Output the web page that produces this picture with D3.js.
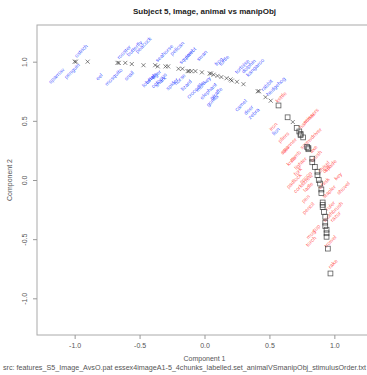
<!DOCTYPE html>
<html>
<head>
<meta charset="utf-8">
<script src="https://cdn.jsdelivr.net/npm/d3@7"></script>
<style>
  body { margin: 0; background: #fff; }
  svg { font-family: "Liberation Sans", Arial, sans-serif; }
</style>
</head>
<body>
<svg id="chart" width="367" height="375"></svg>
<script>
// animal points (crosses)
const animalPts = [
  [-1.00, 1.00], [-0.99, 1.00], [-0.90, 1.00], [-0.67, 0.99], [-0.66, 0.99], [-0.61, 0.99],
  [-0.56, 0.98], [-0.47, 0.97], [-0.38, 0.97], [-0.36, 0.96], [-0.30, 0.96], [-0.28, 0.96],
  [-0.20, 0.94], [-0.17, 0.94], [-0.13, 0.92], [-0.12, 0.92], [-0.10, 0.92], [-0.07, 0.92],
  [-0.02, 0.91], [0.04, 0.90], [0.05, 0.90], [0.07, 0.89], [0.10, 0.88], [0.13, 0.87],
  [0.17, 0.86], [0.20, 0.85], [0.21, 0.84], [0.25, 0.83], [0.30, 0.81], [0.41, 0.75],
  [0.42, 0.75], [0.47, 0.70], [0.51, 0.67], [0.68, 0.49]
];
// manipObj points (squares)
const objectPts = [
  [0.57, 0.63], [0.64, 0.53], [0.71, 0.44], [0.73, 0.41], [0.74, 0.39], [0.74, 0.38],
  [0.76, 0.36], [0.79, 0.28], [0.80, 0.27], [0.80, 0.26], [0.83, 0.18], [0.83, 0.15],
  [0.85, 0.11], [0.87, 0.07], [0.87, 0.04], [0.88, 0.00], [0.89, -0.03], [0.90, -0.08],
  [0.90, -0.11], [0.91, -0.19], [0.91, -0.21], [0.91, -0.23], [0.92, -0.27], [0.93, -0.31],
  [0.93, -0.36], [0.93, -0.39], [0.94, -0.42], [0.94, -0.45], [0.94, -0.48], [0.95, -0.58],
  [0.97, -0.79]
];
// animal labels: name, x, y
const animalLabels = [
  ["ostrich", -0.94, 1.08], ["sparrow", -1.13, 0.87], ["penguin", -1.01, 0.91],
  ["rooster", -0.61, 1.07], ["butterfly", -0.53, 1.10], ["eel", -0.80, 0.86],
  ["mosquito", -0.69, 0.86], ["snail", -0.57, 0.87], ["lobster", -0.42, 0.83],
  ["octopus", -0.34, 0.83], ["seahorse", -0.30, 1.06], ["squirrel", -0.13, 1.03],
  ["parrot", -0.10, 1.06], ["swan", -0.01, 1.04], ["frog", 0.12, 0.99],
  ["turtle", 0.16, 1.00], ["tortoise", 0.30, 0.95], ["dolphin", 0.35, 0.95],
  ["kangaroo", 0.40, 0.94], ["whale", -0.40, 0.85], ["shark", -0.33, 0.82],
  ["spider", -0.24, 0.80], ["lizard", -0.13, 0.79], ["crocodile", -0.06, 0.75],
  ["elephant", 0.04, 0.74], ["giraffe", 0.10, 0.72], ["gorilla", 0.07, 0.66],
  ["rabbit", 0.49, 0.79], ["hedgehog", 0.56, 0.78], ["camel", 0.29, 0.62],
  ["deer", 0.35, 0.58], ["zebra", 0.39, 0.55], ["lion", 0.56, 0.40],
  ["peacock", -0.46, 1.13], ["pelican", -0.20, 1.10], ["tiger", -0.36, 0.88],
  ["monkey", 0.00, 0.80], ["horse", -0.18, 0.84]
];
// manipObj labels: name, x, y
const objectLabels = [
  ["kettle", 0.60, 0.69], ["hammer", 0.80, 0.49], ["scissors", 0.83, 0.53],
  ["iron", 0.54, 0.44], ["pliers", 0.62, 0.35], ["spanner", 0.66, 0.28],
  ["saw", 0.63, 0.24], ["screwdriver", 0.83, 0.34], ["axe", 0.85, 0.25],
  ["comb", 0.71, 0.19], ["brush", 0.87, 0.19], ["chisel", 0.93, 0.10],
  ["fork", 0.73, 0.06], ["spoon", 0.79, 0.01], ["knife", 0.68, 0.15],
  ["corkscrew", 0.77, -0.04], ["ladle", 0.81, -0.07], ["whisk", 0.93, -0.04],
  ["stapler", 0.97, -0.11], ["pen", 0.79, -0.17], ["pencil", 0.81, -0.25],
  ["ruler", 0.98, -0.23], ["toothbrush", 1.00, -0.28], ["razor", 1.02, -0.32],
  ["cup", 0.87, -0.42], ["mug", 0.83, -0.47], ["torch", 0.83, -0.53],
  ["trowel", 0.98, -0.53], ["rake", 1.00, -0.72], ["drill", 0.95, 0.08],
  ["spade", 0.98, 0.11], ["key", 1.04, 0.02], ["shovel", 1.08, -0.08],
  ["lighter", 0.75, 0.13], ["padlock", 0.70, -0.02]
];
const xTicks = [-1.0, -0.5, 0.0, 0.5, 1.0];
const yTicks = [-1.0, -0.5, 0.0, 0.5, 1.0];

const svg = d3.select('#chart');
const pLeft = 37, pRight = 372, pTop = 25, pBottom = 335;

const x = d3.scaleLinear().domain([-1.29, 1.29]).range([pLeft, pRight]);
const y = d3.scaleLinear().domain([-1.31, 1.31]).range([pBottom, pTop]);

// plot box
svg.append('rect')
  .attr('x', pLeft).attr('y', pTop)
  .attr('width', pRight - pLeft).attr('height', pBottom - pTop)
  .attr('fill', 'none').attr('stroke', '#aaa').attr('stroke-width', 1);

// axes
const fmt = d => d3.format('.1f')(d).replace('−', '-');
const xAxis = svg.append('g')
  .attr('transform', 'translate(0,' + pBottom + ')')
  .call(d3.axisBottom(x).tickValues(xTicks).tickFormat(fmt).tickSize(4).tickPadding(4));
const yAxis = svg.append('g')
  .attr('transform', 'translate(' + pLeft + ',0)')
  .call(d3.axisLeft(y).tickValues(yTicks).tickFormat(fmt).tickSize(4).tickPadding(5));

[xAxis, yAxis].forEach(g => {
  g.select('.domain').remove();
  g.selectAll('line').attr('stroke', '#999');
  g.selectAll('text').attr('fill', '#555').style('font-size', '7px')
    .style('font-family', '"Liberation Sans", Arial, sans-serif');
});
yAxis.selectAll('text')
  .attr('text-anchor', 'middle')
  .attr('x', null).attr('dy', null)
  .attr('transform', 'translate(-10,0) rotate(-90)');

// labels
const labels = svg.append('g').style('font-size', '5.5px');
labels.selectAll('text.animal')
  .data(animalLabels).enter().append('text')
  .attr('class', 'animal')
  .attr('text-anchor', 'middle')
  .attr('transform', d => 'translate(' + x(d[1]) + ',' + y(d[2]) + ') rotate(-45)')
  .attr('fill', '#1f3dff').attr('fill-opacity', 0.85)
  .text(d => d[0]);
labels.selectAll('text.object')
  .data(objectLabels).enter().append('text')
  .attr('class', 'object')
  .attr('text-anchor', 'middle')
  .attr('transform', d => 'translate(' + x(d[1]) + ',' + y(d[2]) + ') rotate(-45)')
  .attr('fill', '#ff2a2a').attr('fill-opacity', 0.75)
  .text(d => d[0]);

// crosses
const cr = 2;
svg.append('g').selectAll('path')
  .data(animalPts).enter().append('path')
  .attr('d', d => {
    const cx = x(d[0]), cy = y(d[1]);
    return 'M' + (cx - cr) + ',' + (cy - cr) + 'L' + (cx + cr) + ',' + (cy + cr) +
           'M' + (cx - cr) + ',' + (cy + cr) + 'L' + (cx + cr) + ',' + (cy - cr);
  })
  .attr('stroke', '#333').attr('stroke-opacity', 0.75).attr('stroke-width', 0.8).attr('fill', 'none');

// squares
const sq = 2.4;
svg.append('g').selectAll('rect')
  .data(objectPts).enter().append('rect')
  .attr('x', d => x(d[0]) - sq).attr('y', d => y(d[1]) - sq)
  .attr('width', sq * 2).attr('height', sq * 2)
  .attr('fill', 'none').attr('stroke', '#333').attr('stroke-opacity', 0.8).attr('stroke-width', 0.8);

// titles
svg.append('text')
  .attr('x', (pLeft + pRight) / 2).attr('y', 14)
  .attr('text-anchor', 'middle')
  .style('font-size', '8px').style('font-weight', 'bold').attr('fill', '#222')
  .text('Subject 5, Image, animal vs manipObj');
svg.append('text')
  .attr('x', (pLeft + pRight) / 2).attr('y', 361)
  .attr('text-anchor', 'middle')
  .style('font-size', '7px').attr('fill', '#555')
  .text('Component 1');
svg.append('text')
  .attr('x', 3).attr('y', 370)
  .attr('textLength', 363).attr('lengthAdjust', 'spacingAndGlyphs')
  .style('font-size', '7px').attr('fill', '#555')
  .text('src: features_S5_Image_AvsO.pat essex4imageA1-5_4chunks_labelled.set_animalVSmanipObj_stimulusOrder.txt');
svg.append('text')
  .attr('transform', 'translate(12,' + (pTop + pBottom) / 2 + ') rotate(-90)')
  .attr('text-anchor', 'middle')
  .style('font-size', '7px').attr('fill', '#555')
  .text('Component 2');
</script>
</body>
</html>
